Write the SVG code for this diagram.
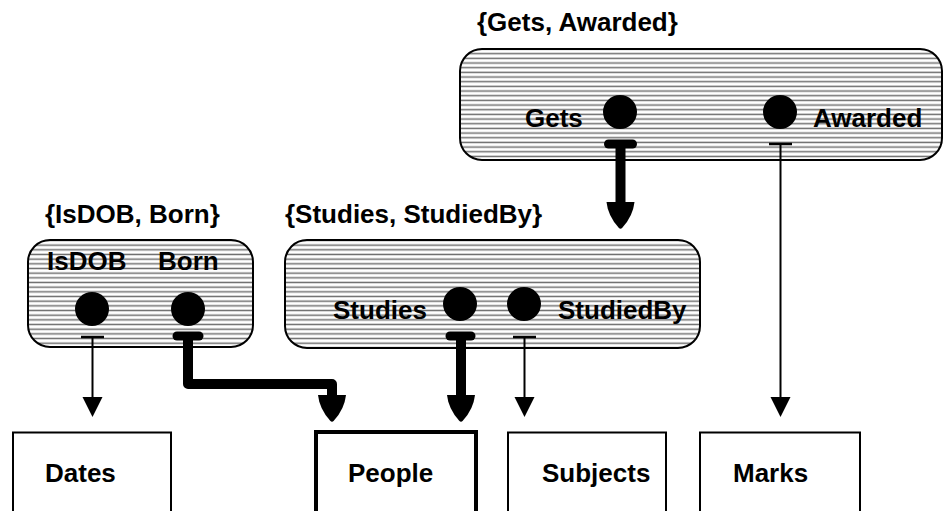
<svg xmlns="http://www.w3.org/2000/svg" width="943" height="511" viewBox="0 0 943 511">
  <defs>
    <!-- horizontal hatching used for relationship boxes -->
    <pattern id="hatch" patternUnits="userSpaceOnUse" width="10" height="4.67">
      <rect width="10" height="4.67" fill="#fff"/>
      <line x1="0" y1="2.3" x2="10" y2="2.3" stroke="#6e6e6e" stroke-width="1.5"/>
    </pattern>
    <!-- arrowheads, tip at the origin, pointing down -->
    <path id="head-thick" d="M-14,-27 L14,-27 Q12.5,-13 1.8,-1.2 Q0,0.6 -1.8,-1.2 Q-12.5,-13 -14,-27Z" fill="#000"/>
    <path id="head-thin" d="M-10,-20 L10,-20 L0,0Z" fill="#000"/>
  </defs>
  <style>
    text{font-family:"Liberation Sans",Arial,Helvetica,sans-serif;font-weight:bold;font-size:26px;fill:#000}
    .rel{fill:url(#hatch);stroke:#000;stroke-width:2}
    .ent{fill:#fff;stroke:#000;stroke-width:2}
    .key{stroke-width:4}
    .role{fill:#000}
    .thick{fill:none;stroke:#000;stroke-width:10;stroke-linejoin:round}
    .bar-thick{stroke:#000;stroke-width:9;stroke-linecap:round}
    .thin{fill:none;stroke:#000;stroke-width:2}
    .bar-thin{stroke:#000;stroke-width:2.5}
  </style>
  <rect width="943" height="511" fill="#fff"/>

  <!-- relationship: Gets / Awarded -->
  <g id="rel-gets-awarded">
    <text x="477" y="31">{Gets, Awarded}</text>
    <rect class="rel" x="460" y="49" width="482" height="111" rx="22"/>
    <text x="525" y="127">Gets</text>
    <circle class="role" cx="620" cy="112" r="17"/>
    <circle class="role" cx="780" cy="112" r="17"/>
    <text x="813" y="127">Awarded</text>
  </g>

  <!-- relationship: IsDOB / Born -->
  <g id="rel-isdob-born">
    <text x="45" y="223">{IsDOB, Born}</text>
    <rect class="rel" x="28" y="240" width="225" height="107" rx="22"/>
    <text x="47" y="270">IsDOB</text>
    <text x="158" y="270">Born</text>
    <circle class="role" cx="92" cy="309" r="17"/>
    <circle class="role" cx="188" cy="309" r="17"/>
  </g>

  <!-- relationship: Studies / StudiedBy -->
  <g id="rel-studies-studiedby">
    <text x="285" y="223">{Studies, StudiedBy}</text>
    <rect class="rel" x="285" y="240" width="415" height="108" rx="22"/>
    <text x="333" y="319">Studies</text>
    <circle class="role" cx="460" cy="304" r="17"/>
    <circle class="role" cx="524" cy="304" r="17"/>
    <text x="558" y="319">StudiedBy</text>
  </g>

  <!-- entity types -->
  <g id="ent-dates">
    <rect class="ent" x="13" y="432.5" width="158" height="100"/>
    <text x="45" y="482">Dates</text>
  </g>
  <g id="ent-people">
    <rect class="ent key" x="316" y="432" width="160" height="100"/>
    <text x="348" y="482">People</text>
  </g>
  <g id="ent-subjects">
    <rect class="ent" x="508" y="432.5" width="158" height="100"/>
    <text x="542" y="482">Subjects</text>
  </g>
  <g id="ent-marks">
    <rect class="ent" x="700" y="432.5" width="160" height="100"/>
    <text x="733" y="482">Marks</text>
  </g>

  <!-- connectors: thick = total role, thin = partial role -->
  <g id="connectors">
    <!-- Gets -> {Studies, StudiedBy} -->
    <line class="bar-thick" x1="608.5" y1="144" x2="632.5" y2="144"/>
    <line class="thick" x1="620.5" y1="144" x2="620.5" y2="206"/>
    <use href="#head-thick" x="620.5" y="229"/>

    <!-- Awarded -> Marks -->
    <line class="bar-thin" x1="769" y1="144" x2="792" y2="144"/>
    <line class="thin" x1="780.5" y1="144" x2="780.5" y2="400"/>
    <use href="#head-thin" x="780.5" y="417"/>

    <!-- IsDOB -> Dates -->
    <line class="bar-thin" x1="81" y1="337" x2="104" y2="337"/>
    <line class="thin" x1="92.5" y1="337" x2="92.5" y2="400"/>
    <use href="#head-thin" x="92.5" y="417"/>

    <!-- Born -> People -->
    <line class="bar-thick" x1="177" y1="336" x2="199" y2="336"/>
    <path class="thick" d="M188,336 V384 H332 V398"/>
    <use href="#head-thick" x="332" y="422"/>

    <!-- Studies -> People -->
    <line class="bar-thick" x1="450" y1="336" x2="471" y2="336"/>
    <line class="thick" x1="461" y1="336" x2="461" y2="398"/>
    <use href="#head-thick" x="461" y="422"/>

    <!-- StudiedBy -> Subjects -->
    <line class="bar-thin" x1="513" y1="337" x2="536" y2="337"/>
    <line class="thin" x1="524.5" y1="337" x2="524.5" y2="400"/>
    <use href="#head-thin" x="524.5" y="417"/>
  </g>
</svg>
